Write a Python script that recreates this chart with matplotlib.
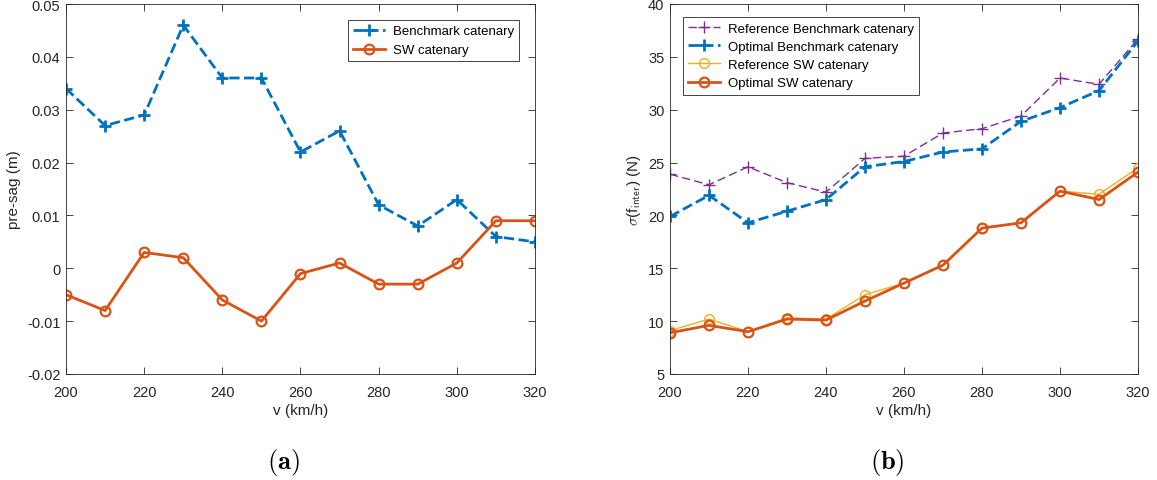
import matplotlib
matplotlib.use("Agg")
import matplotlib.pyplot as plt

plt.rcParams['font.family'] = ['Liberation Sans', 'DejaVu Sans']
plt.rcParams['mathtext.fontset'] = 'cm'

# speeds (km/h)
speed = [200, 210, 220, 230, 240, 250, 260, 270, 280, 290, 300, 310, 320]

# (a) optimal pre-sag (m)
presag_benchmark = [0.034, 0.027, 0.029, 0.046, 0.036, 0.036, 0.022, 0.026,
                    0.012, 0.008, 0.013, 0.006, 0.005]
presag_sw = [-0.005, -0.008, 0.003, 0.002, -0.006, -0.010, -0.001, 0.001,
             -0.003, -0.003, 0.001, 0.009, 0.009]

# (b) standard deviation of interaction force (N)
sd_ref_benchmark = [23.9, 22.9, 24.6, 23.1, 22.2, 25.4, 25.6, 27.8, 28.2, 29.4, 33.0, 32.4, 36.7]
sd_opt_benchmark = [19.9, 21.9, 19.3, 20.4, 21.5, 24.6, 25.1, 26.0, 26.3, 28.9, 30.2, 31.8, 36.5]
sd_ref_sw = [9.1, 10.2, 9.0, 10.3, 10.2, 12.5, 13.6, 15.3, 18.8, 19.3, 22.3, 22.0, 24.5]
sd_opt_sw = [8.9, 9.6, 9.0, 10.2, 10.1, 11.9, 13.6, 15.3, 18.8, 19.3, 22.3, 21.5, 24.1]

BLUE = '#0072BD'
ORANGE = '#D95319'
YELLOW = '#EDB120'
PURPLE = '#7E2F8E'
AXCOL = '#262626'

W, H = 1157, 481
fig = plt.figure(figsize=(W / 100, H / 100), dpi=100)
ax1 = fig.add_axes([66 / W, 1 - 375 / H, (535 - 66) / W, 370 / H])
ax2 = fig.add_axes([670 / W, 1 - 375 / H, (1138 - 670) / W, 370 / H])


def style(ax):
    ax.set_xlim(200, 320)
    ax.set_xticks(range(200, 321, 20))
    ax.tick_params(direction='in', top=True, right=True, labelsize=10.5,
                   colors=AXCOL, length=5, width=0.6, pad=4)
    ax.tick_params(axis='x', pad=8)
    for s in ax.spines.values():
        s.set_color(AXCOL)
        s.set_linewidth(0.6)
    ax.set_xlabel('v (km/h)', fontsize=11, color=AXCOL, labelpad=3)


ax1.plot(speed, presag_benchmark, '--+', color=BLUE, lw=2, ms=9, mew=2,
         label='Benchmark catenary')
ax1.plot(speed, presag_sw, '-o', color=ORANGE, lw=2, ms=7, mew=1.6,
         mfc='none', label='SW catenary')
style(ax1)
ax1.set_ylim(-0.02, 0.05)
ax1.set_yticks([-0.02, -0.01, 0, 0.01, 0.02, 0.03, 0.04, 0.05])
ax1.set_yticklabels(['-0.02', '-0.01', '0', '0.01', '0.02', '0.03', '0.04', '0.05'])
ax1.set_ylabel('pre-sag (m)', fontsize=11, color=AXCOL, labelpad=4)
leg1 = ax1.legend(loc='upper right', fontsize=9.5, fancybox=False,
                  edgecolor=AXCOL, framealpha=1, handlelength=2.4,
                  borderaxespad=1.2, handletextpad=0.6)
leg1.get_frame().set_linewidth(0.6)

ax2.plot(speed, sd_ref_benchmark, '--+', color=PURPLE, lw=1, ms=9, mew=1,
         dashes=(6, 3), label='Reference Benchmark catenary')
ax2.plot(speed, sd_opt_benchmark, '--+', color=BLUE, lw=2, ms=9, mew=2,
         label='Optimal Benchmark catenary')
ax2.plot(speed, sd_ref_sw, '-o', color=YELLOW, lw=1, ms=7, mew=1,
         mfc='none', label='Reference SW catenary')
ax2.plot(speed, sd_opt_sw, '-o', color=ORANGE, lw=2, ms=7, mew=1.6,
         mfc='none', label='Optimal SW catenary')
style(ax2)
ax2.set_ylim(5, 40)
ax2.set_yticks(range(5, 41, 5))
ax2.set_ylabel(r'$\sigma$(f$_{\mathsf{inter}}$) (N)', fontsize=11, color=AXCOL, labelpad=4)
leg2 = ax2.legend(loc='upper left', fontsize=9.5, fancybox=False,
                  edgecolor=AXCOL, framealpha=1, handlelength=2.4,
                  borderaxespad=1.0, handletextpad=0.6, labelspacing=0.45)
leg2.get_frame().set_linewidth(0.6)

fig.text(283 / W, 1 - 462 / H, r'$\mathbf{(a)}$', fontsize=19, ha='center', va='center')
fig.text(887 / W, 1 - 462 / H, r'$\mathbf{(b)}$', fontsize=19, ha='center', va='center')

fig.savefig('out.png', dpi=100)
